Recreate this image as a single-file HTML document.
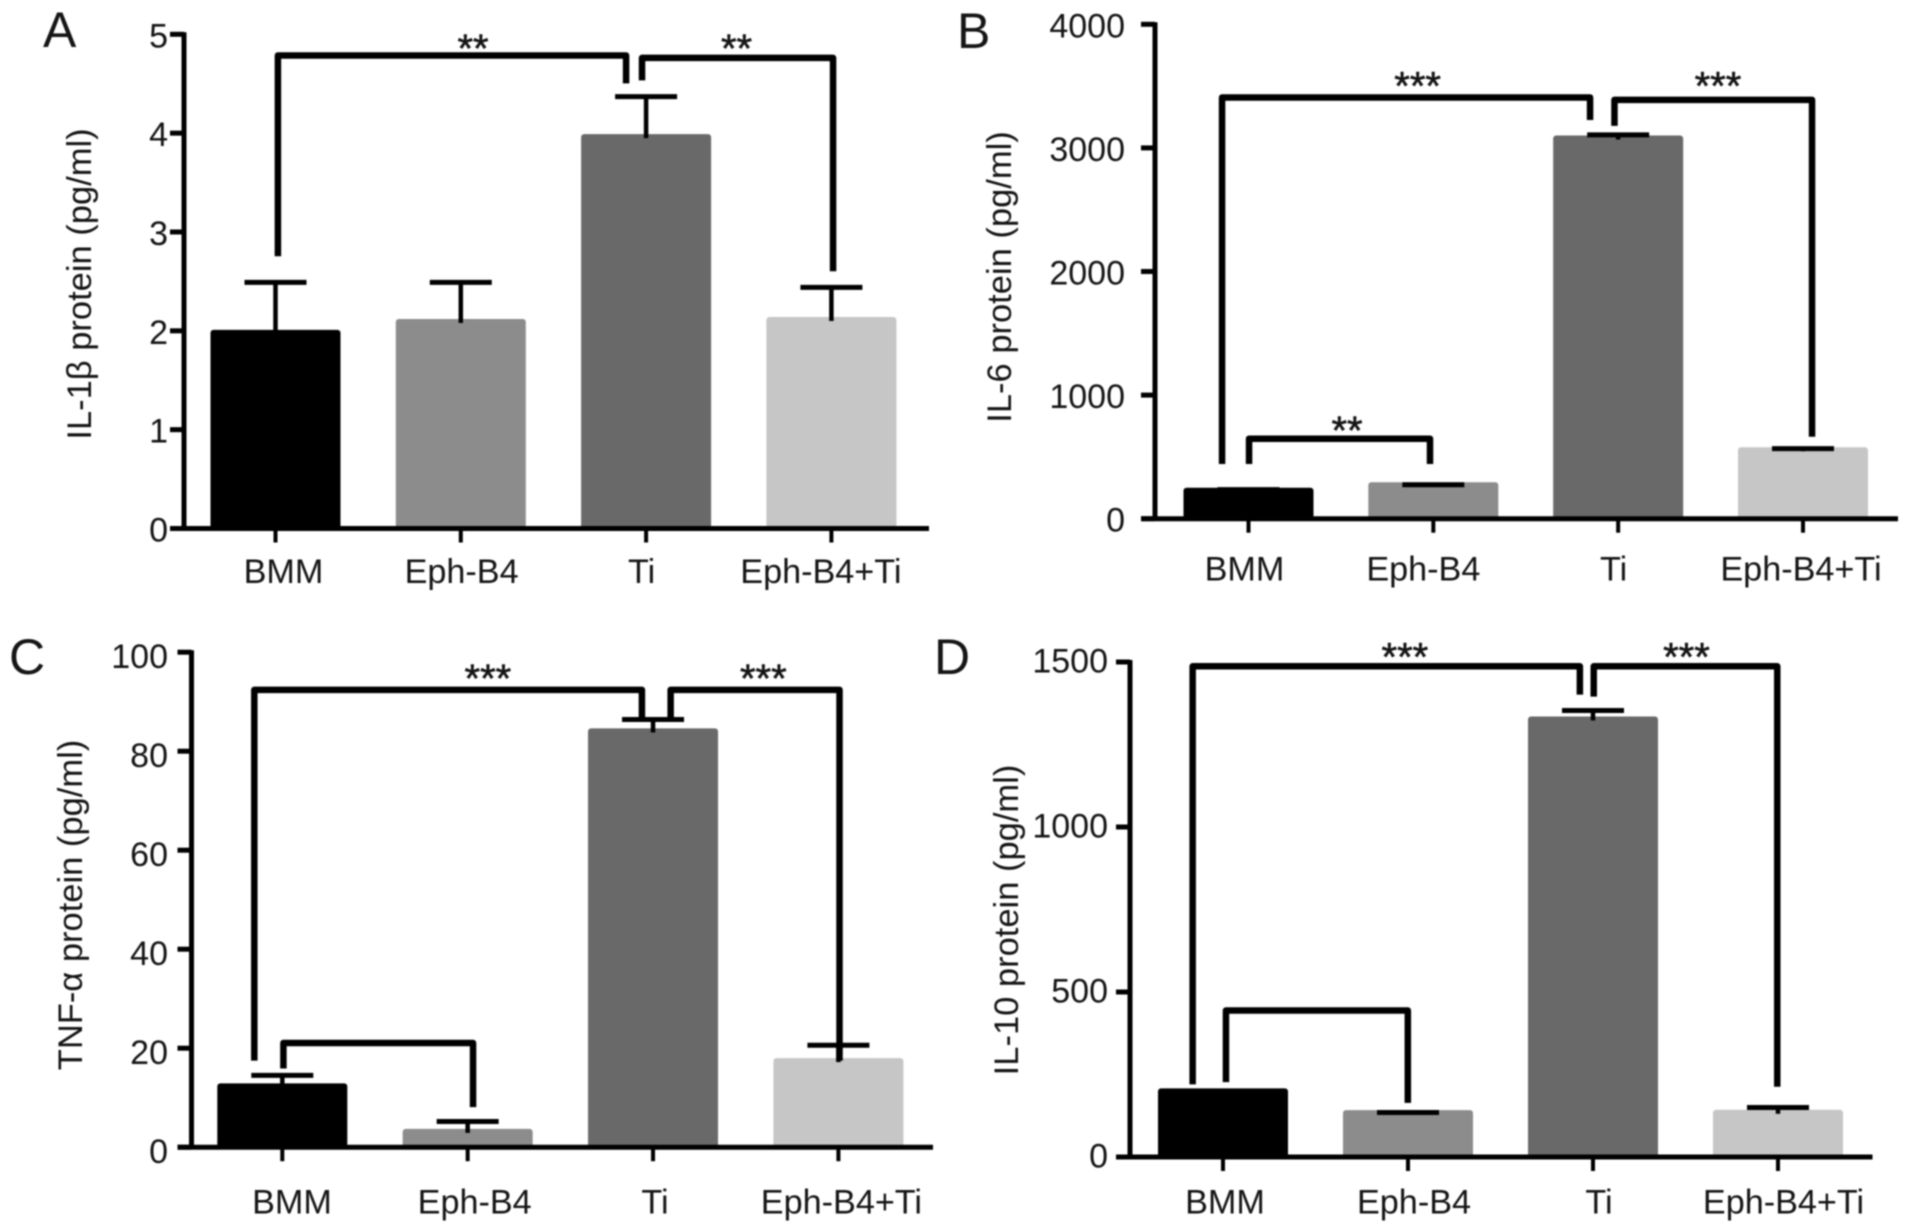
<!DOCTYPE html>
<html lang="en">
<head>
<meta charset="utf-8">
<title>Cytokine protein levels</title>
<style>
html,body{margin:0;padding:0;background:#fff;width:1913px;height:1232px;overflow:hidden}
svg{display:block;filter:blur(0.7px)}
text{font-family:"Liberation Sans",Arial,sans-serif;fill:#151515}
</style>
</head>
<body>
<svg id="figure" xmlns="http://www.w3.org/2000/svg" width="1913" height="1232" viewBox="0 0 1913 1232">
<rect width="1913" height="1232" fill="#fff"/>
</svg>
<script>
/* Shared categories and bar colours */
const categories = ["BMM", "Eph-B4", "Ti", "Eph-B4+Ti"];
const barColors = ["#000000", "#8c8c8c", "#696969", "#c6c6c6"];

/* Panel A: IL-1beta */
const aTicks = [0, 1, 2, 3, 4, 5];
const aValues = [2.01, 2.12, 3.99, 2.14];
const aErrorTops = [2.49, 2.49, 4.37, 2.44];
/* brackets: category-from, value-from, value-top, category-to, value-to, stars, star-category, star-value */
const aBrackets = [
  [0.013, 2.754, 4.786, 1.892, 4.504, "**", 1.066, 4.912],
  [1.978, 4.534, 4.761, 3.009, 2.603, "**", 2.488, 4.912]
];

/* Panel B: IL-6 */
const bTicks = [0, 1000, 2000, 3000, 4000];
const bValues = [250, 295, 3100, 578];
const bErrorTops = [235, 275, 3105, 567];
const bBrackets = [
  [-0.143, 443, 3408, 1.848, 3226, "***", 0.915, 3545],
  [1.980, 3178, 3389, 3.049, 663, "***", 2.540, 3545],
  [0.003, 443, 647, 0.982, 443, "**", 0.533, 757]
];

/* Panel C: TNF-alpha */
const cTicks = [0, 20, 40, 60, 80, 100];
const cValues = [12.9, 3.7, 84.6, 18];
const cErrorTops = [14.5, 5.2, 86.4, 20.6];
const cBrackets = [
  [-0.151, 17.5, 92.4, 1.940, 86.5, "***", 1.109, 95.8],
  [2.095, 86.5, 92.4, 3.006, 17.5, "***", 2.595, 95.8],
  [0.006, 15.9, 21.06, 1.029, 8.1, "", 0, 0]
];

/* Panel D: IL-10 */
const dTicks = [0, 500, 1000, 1500];
const dValues = [208, 142, 1335, 143];
const dErrorTops = [200, 135, 1353, 150];
const dBrackets = [
  [-0.164, 220, 1487, 1.929, 1401, "***", 0.983, 1532],
  [2.004, 1395, 1487, 2.996, 213, "***", 2.505, 1532],
  [0.016, 227, 444, 0.999, 164, "", 0, 0]
];

const svg = document.getElementById("figure");
const NS = "http://www.w3.org/2000/svg";

function make(tag, parent, attrs, content) {
  const node = document.createElementNS(NS, tag);
  for (const k in attrs) node.setAttribute(k, attrs[k]);
  if (content !== undefined) node.textContent = content;
  parent.appendChild(node);
  return node;
}

function drawPanel(p) {
  const key = p.key;
  const maxTick = p.ticks[p.ticks.length - 1];
  const minTick = p.ticks[0];
  const yScale = v => p.y0 + (v - minTick) / (maxTick - minTick) * (p.yTop - p.y0);
  const xScale = c => p.x0 + c * p.step;

  const g = make("g", svg, {});
  
  

  const letter = make("text", g, {x: p.letterX, y: p.letterY, "font-size": 50}, key.toUpperCase());
  
  

  const title = make("text", g, {
    transform: "translate(" + p.titleX + "," + p.titleY + ") rotate(-90)",
    "text-anchor": "middle", "font-size": 34.5
  }, p.title);
  
  

  /* bars */
  categories.forEach((cat, i) => {
    const cx = xScale(i);
    const top = yScale(p.values[i]);
    const bar = make("rect", g, {
      x: cx - 65, y: top, width: 130, height: Math.max(0, p.y0 - top),
      rx: 3, ry: 3, fill: barColors[i]
    });
    
    
  });

  /* error bars */
  categories.forEach((cat, i) => {
    const cx = xScale(i);
    const errY = yScale(p.errors[i]);
    const barY = yScale(p.values[i]);
    const stem = make("line", g, {
      x1: cx, x2: cx, y1: barY + 4, y2: errY,
      stroke: "#000", "stroke-width": 4.5
    });
    
    
    const cap = make("line", g, {
      x1: cx - 31, x2: cx + 31, y1: errY, y2: errY,
      stroke: "#000", "stroke-width": 5
    });
    
    
  });

  /* y axis */
  const yAxis = make("line", g, {
    x1: p.axisX, x2: p.axisX, y1: yScale(maxTick) - 2, y2: p.y0 + 2,
    stroke: "#000", "stroke-width": 5
  });
  
  

  p.ticks.forEach(t => {
    const ty = yScale(t);
    const tick = make("line", g, {
      x1: p.axisX - 14, x2: p.axisX, y1: ty, y2: ty,
      stroke: "#000", "stroke-width": 5
    });
    
    
    const label = make("text", g, {
      x: p.tickLabelRight, y: ty + p.tickLabelDy, "text-anchor": "end", "font-size": 34
    }, String(t));
    
    
  });

  /* x axis */
  const xAxis = make("line", g, {
    x1: p.axisX - 14, x2: p.xEnd, y1: p.y0, y2: p.y0,
    stroke: "#000", "stroke-width": 5
  });
  
  

  categories.forEach((cat, i) => {
    const cx = xScale(i);
    const tick = make("line", g, {
      x1: cx, x2: cx, y1: p.y0, y2: p.y0 + 14,
      stroke: "#000", "stroke-width": 4
    });
    
    
    const label = make("text", g, {
      x: cx + p.labelOffsets[i], y: p.labelY, "text-anchor": "middle", "font-size": 34.2
    }, cat);
    
    
  });

  /* significance brackets */
  p.brackets.forEach((b, i) => {
    const d = "M" + xScale(b[0]) + " " + yScale(b[1]) +
              "V" + yScale(b[2]) +
              "H" + xScale(b[3]) +
              "V" + yScale(b[4]);
    const path = make("path", g, {
      d: d, fill: "none", stroke: "#000", "stroke-width": 6.5, "stroke-linejoin": "round"
    });
    
    
    if (b[5]) {
      const star = make("text", g, {
        x: xScale(b[6]), y: yScale(b[7]) + 19, "text-anchor": "middle", "font-size": 40,
        stroke: "#151515", "stroke-width": 0.6
      }, b[5]);
      
      
    }
  });
}

drawPanel({
  key: "a", title: "IL-1β protein (pg/ml)",
  ticks: aTicks, values: aValues, errors: aErrorTops, brackets: aBrackets,
  y0: 528.5, yTop: 34.3, axisX: 184, xEnd: 929, x0: 275.5, step: 185.3,
  tickLabelRight: 168, tickLabelDy: 13, labelY: 583,
  labelOffsets: [8, 0.8, -4.5, -10.5],
  letterX: 43, letterY: 47, titleX: 91, titleY: 284
});
drawPanel({
  key: "b", title: "IL-6 protein (pg/ml)",
  ticks: bTicks, values: bValues, errors: bErrorTops, brackets: bBrackets,
  y0: 518.7, yTop: 24.3, axisX: 1155, xEnd: 1898, x0: 1248.5, step: 184.83,
  tickLabelRight: 1125, tickLabelDy: 13, labelY: 580.5,
  labelOffsets: [-4, -10, -4.5, -2],
  letterX: 957, letterY: 48, titleX: 1011, titleY: 277
});
drawPanel({
  key: "c", title: "TNF-α protein (pg/ml)",
  ticks: cTicks, values: cValues, errors: cErrorTops, brackets: cBrackets,
  y0: 1147.2, yTop: 652.2, axisX: 191.5, xEnd: 933, x0: 282.3, step: 185.37,
  tickLabelRight: 168, tickLabelDy: 16, labelY: 1213.5,
  labelOffsets: [9.7, 7, 2, 3],
  letterX: 9, letterY: 674, titleX: 82, titleY: 905
});
drawPanel({
  key: "d", title: "IL-10 protein (pg/ml)",
  ticks: dTicks, values: dValues, errors: dErrorTops, brackets: dBrackets,
  y0: 1157, yTop: 662, axisX: 1130, xEnd: 1872.5, x0: 1223, step: 185,
  tickLabelRight: 1108, tickLabelDy: 10.5, labelY: 1213.5,
  labelOffsets: [2, 6, 6, 5.5],
  letterX: 934, letterY: 674, titleX: 1018, titleY: 920
});
</script>
</body>
</html>
